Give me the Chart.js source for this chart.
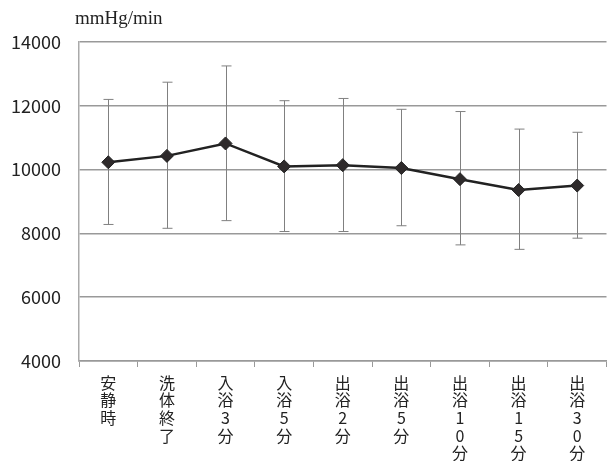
<!DOCTYPE html>
<html>
<head>
<meta charset="utf-8">
<script src="https://cdn.jsdelivr.net/npm/chart.js@4"></script>
<style>
  html, body { margin: 0; padding: 0; background: #fff; overflow: hidden; }
  #wrap { width: 614px; height: 461px; }
</style>
</head>
<body>
<div id="wrap"><canvas id="chart"></canvas></div>
<script>
const labels = [
    ["安", "静", "時"],
    ["洗", "体", "終", "了"],
    ["入", "浴", "3", "分"],
    ["入", "浴", "5", "分"],
    ["出", "浴", "2", "分"],
    ["出", "浴", "5", "分"],
    ["出", "浴", "1", "0", "分"],
    ["出", "浴", "1", "5", "分"],
    ["出", "浴", "3", "0", "分"]
];
const meanValues = [10230, 10430, 10820, 10100, 10140, 10050, 9700, 9360, 9500];
const upperValues = [12200, 12740, 13250, 12160, 12230, 11890, 11820, 11270, 11170];
const lowerValues = [8280, 8160, 8400, 8060, 8060, 8240, 7640, 7500, 7850];
const yTicks = [4000, 6000, 8000, 10000, 12000, 14000];
const unitLabel = "mmHg/min";

// whiskers drawn from the y scale
const errorBars = {
    id: "errorBars",
    beforeDatasetsDraw(chart) {
        const ctx = chart.ctx;
        const x = chart.scales.x;
        const y = chart.scales.y;
        ctx.save();
        ctx.strokeStyle = "#808080";
        ctx.lineWidth = 1;
        for (let i = 0; i < meanValues.length; i++) {
            const px = Math.round(x.getPixelForValue(i)) + 0.5;
            const top = y.getPixelForValue(upperValues[i]);
            const bot = y.getPixelForValue(lowerValues[i]);
            ctx.beginPath();
            ctx.moveTo(px, top);
            ctx.lineTo(px, bot);
            ctx.moveTo(px - 5, top);
            ctx.lineTo(px + 5, top);
            ctx.moveTo(px - 5, bot);
            ctx.lineTo(px + 5, bot);
            ctx.stroke();
        }
        ctx.restore();
    },
    afterDraw(chart) {
        const ctx = chart.ctx;
        ctx.save();
        ctx.fillStyle = "#222";
        ctx.font = "19px 'Liberation Serif', 'DejaVu Serif', serif";
        ctx.textBaseline = "alphabetic";
        ctx.fillText(unitLabel, chart.chartArea.left - 4, chart.chartArea.top - 18);
        ctx.restore();
    }
};

let ctx = document.getElementById("chart").getContext("2d");
let chart = new Chart(ctx, {
    type: "line",
    data: {
        labels: labels,
        datasets: [{
            data: meanValues,
            borderColor: "#222",
            borderWidth: 2.5,
            pointStyle: "rectRot",
            pointRadius: 6.5,
            pointBackgroundColor: "#2e2a2b",
            pointBorderColor: "#222",
            pointBorderWidth: 1,
            tension: 0
        }]
    },
    options: {
        responsive: true,
        maintainAspectRatio: false,
        animation: false,
        layout: { padding: { top: 42, right: 0, left: 0, bottom: 0 } },
        plugins: {
            legend: { display: false },
            tooltip: { enabled: false }
        },
        scales: {
            x: {
                offset: true,
                afterFit: (scale) => { scale.height = 100; },
                grid: {
                    offset: true,
                    drawOnChartArea: false,
                    drawTicks: true,
                    tickLength: 6,
                    color: "#999"
                },
                border: { color: "#999", width: 1.5 },
                ticks: {
                    color: "#222",
                    padding: 7,
                    maxRotation: 0,
                    autoSkip: false,
                    font: { family: "'Noto Sans CJK JP', sans-serif", size: 16, lineHeight: 1.1 }
                }
            },
            y: {
                min: 4000,
                max: 14000,
                afterFit: (scale) => { scale.width = 79; },
                afterBuildTicks: (scale) => { scale.ticks = yTicks.map(v => ({ value: v })); },
                grid: {
                    color: "#999",
                    lineWidth: 1.5,
                    drawTicks: false
                },
                border: { color: "#aaa", width: 1.5 },
                ticks: {
                    color: "#222",
                    padding: 18,
                    callback: (v) => String(v),
                    font: { family: "'Noto Sans CJK JP', sans-serif", size: 18 }
                }
            }
        }
    },
    plugins: [errorBars]
});
</script>
</body>
</html>
